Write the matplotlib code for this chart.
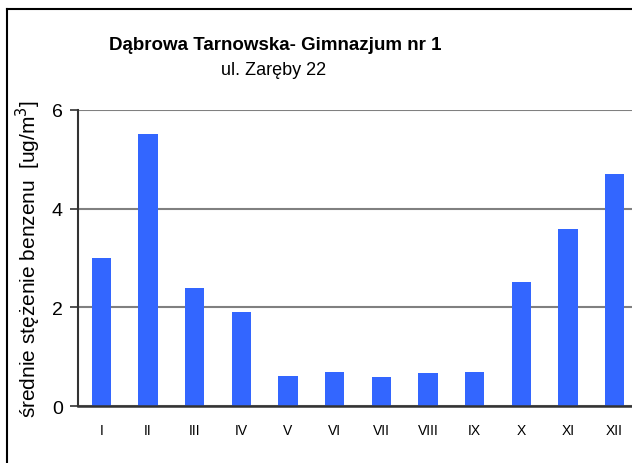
import matplotlib
matplotlib.use("Agg")
import matplotlib.pyplot as plt
from matplotlib.lines import Line2D

plt.rcParams["font.family"] = ["Liberation Sans", "DejaVu Sans"]

months = ["I", "II", "III", "IV", "V", "VI", "VII", "VIII", "IX", "X", "XI", "XII"]
benzene = [3.0, 5.51, 2.39, 1.9, 0.6, 0.69, 0.59, 0.67, 0.68, 2.51, 3.59, 4.70]
y_ticks = [0, 2, 4, 6]

fig = plt.figure(figsize=(6.32, 4.64), dpi=100)
ax = fig.add_axes([0.1234, 0.1228, 0.886, 0.638])

x = range(len(months))
ax.bar(x, benzene, width=0.41, color="#3366FF", zorder=3)

ax.set_xlim(-0.5, len(months) - 0.5)
ax.set_ylim(0, 6)
ax.set_yticks(y_ticks)
ax.set_xticks(list(x))
ax.set_xticklabels(months, fontsize=10)
ax.tick_params(axis="x", length=0, pad=12)
ax.tick_params(axis="y", length=6, width=1.2, labelsize=14, pad=5, color="#333333")
ax.grid(axis="y", color="#808080", linewidth=1.5, zorder=0)

for side in ["top", "right"]:
    ax.spines[side].set_visible(False)
ax.spines["left"].set_linewidth(1.5)
ax.spines["left"].set_color("#333333")
ax.spines["bottom"].set_linewidth(1.8)
ax.spines["bottom"].set_color("#333333")
ax.spines["bottom"].set_zorder(4)

ax.set_ylabel("średnie stężenie benzenu  [ug/m$^3$]", fontsize=15, labelpad=6)

fig.text(0.436, 0.903, "Dąbrowa Tarnowska- Gimnazjum nr 1", ha="center", va="center",
         fontsize=13.5, fontweight="bold")
fig.text(0.433, 0.849, "ul. Zaręby 22", ha="center", va="center", fontsize=13)

# ramka wykresu (przycięta po prawej i u dołu)
fig.add_artist(Line2D([7 / 632, 7 / 632], [0, 1 - 10 / 464], color="black", linewidth=1.5,
                      transform=fig.transFigure))
fig.add_artist(Line2D([7 / 632, 1], [1 - 10 / 464, 1 - 10 / 464], color="black", linewidth=1.5,
                      transform=fig.transFigure))

plt.savefig("out.png", dpi=100)
